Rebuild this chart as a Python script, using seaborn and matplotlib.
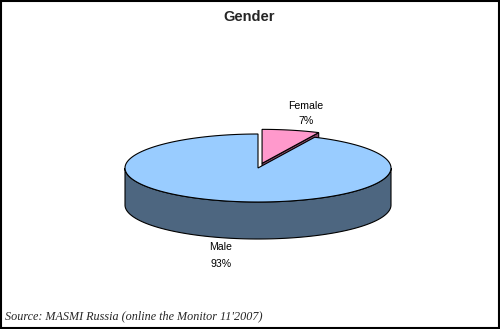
import numpy as np
import matplotlib
matplotlib.use("Agg")
import matplotlib.pyplot as plt
from matplotlib.patches import Polygon, Rectangle
import seaborn as sns

# ---- data ----
categories = ["Female", "Male"]
shares = [7, 93]
pct_labels = ["7%", "93%"]
title = "Gender"
source = "Source: MASMI Russia (online the Monitor 11'2007)"

# ---- style ----
sns.set_style("white")
plt.rcParams["font.family"] = ["Liberation Sans", "DejaVu Sans"]
top_colors = {"Female": "#FF99CC", "Male": "#99CCFF"}
side_colors = {"Female": "#8A4A6A", "Male": "#4D6680"}
explode = {"Female": 0.14, "Male": 0.0}

W, H = 500, 329
fig = plt.figure(figsize=(W / 100, H / 100), dpi=100)
ax = fig.add_axes([0, 0, 1, 1])
ax.set_xlim(0, W)
ax.set_ylim(H, 0)
ax.axis("off")

cx, cy, a, b, depth = 258.0, 168.0, 133.0, 34.0, 37.0
LW = 0.8


def pt(t, ox, oy, dz=0.0):
    r = np.radians(t)
    return cx + ox + a * np.sin(r), cy + oy - b * np.cos(r) + dz


def arc(t0, t1, ox, oy, dz=0.0, n=200):
    ts = np.linspace(t0, t1, n)
    return [pt(t, ox, oy, dz) for t in ts]


total = float(sum(shares))
start = 0.0
slices = []
for cat, v in zip(categories, shares):
    ext = 360.0 * v / total
    t0, t1 = start, start + ext
    mid = np.radians((t0 + t1) / 2)
    e = explode[cat]
    ox, oy = e * a * np.sin(mid), -e * b * np.cos(mid)
    slices.append((cat, t0, t1, ox, oy))
    start = t1

for cat, t0, t1, ox, oy in slices:
    z = 1 if cat == "Female" else 3
    c0 = (cx + ox, cy + oy)
    # radial faces
    if 0 < t1 % 360 < 180:
        p = pt(t1, ox, oy)
        quad = [c0, p, (p[0], p[1] + depth), (c0[0], c0[1] + depth)]
        ax.add_patch(Polygon(quad, closed=True, facecolor=side_colors[cat],
                             edgecolor="black", lw=LW, zorder=z))
    if 180 < t0 % 360 < 360:
        p = pt(t0, ox, oy)
        quad = [c0, p, (p[0], p[1] + depth), (c0[0], c0[1] + depth)]
        ax.add_patch(Polygon(quad, closed=True, facecolor=side_colors[cat],
                             edgecolor="black", lw=LW, zorder=z))
    # front curved side
    s0, s1 = max(t0, 90.0), min(t1, 270.0)
    if s1 > s0:
        top = arc(s0, s1, ox, oy)
        bot = arc(s0, s1, ox, oy, depth)[::-1]
        ax.add_patch(Polygon(top + bot, closed=True, facecolor=side_colors[cat],
                             edgecolor="black", lw=LW, zorder=z + 0.5))
    # top face
    poly = [c0] + arc(t0, t1, ox, oy)
    ax.add_patch(Polygon(poly, closed=True, facecolor=top_colors[cat],
                         edgecolor="black", lw=LW, zorder=z + 1, joinstyle="miter"))

# labels
label_pos = {"Female": (306, 106, 121.5), "Male": (221, 247, 264)}
for cat, pl in zip(categories, pct_labels):
    x, y1, y2 = label_pos[cat]
    ax.text(x, y1, cat, ha="center", va="center", fontsize=7.6, color="black", zorder=10)
    ax.text(x, y2, pl, ha="center", va="center", fontsize=7.6, color="black", zorder=10)

ax.text(249, 17, title, ha="center", va="center", fontsize=10.5, fontweight="bold", zorder=10)
ax.text(5, 316, source, ha="left", va="center", fontsize=8.7, style="italic",
        family=["Liberation Serif", "DejaVu Serif"], zorder=10)

ax.add_patch(Rectangle((0.75, 0.75), W - 1.5, H - 1.5, fill=False, edgecolor="black",
                       lw=1.5, zorder=20))

fig.savefig("out.png", dpi=100)
